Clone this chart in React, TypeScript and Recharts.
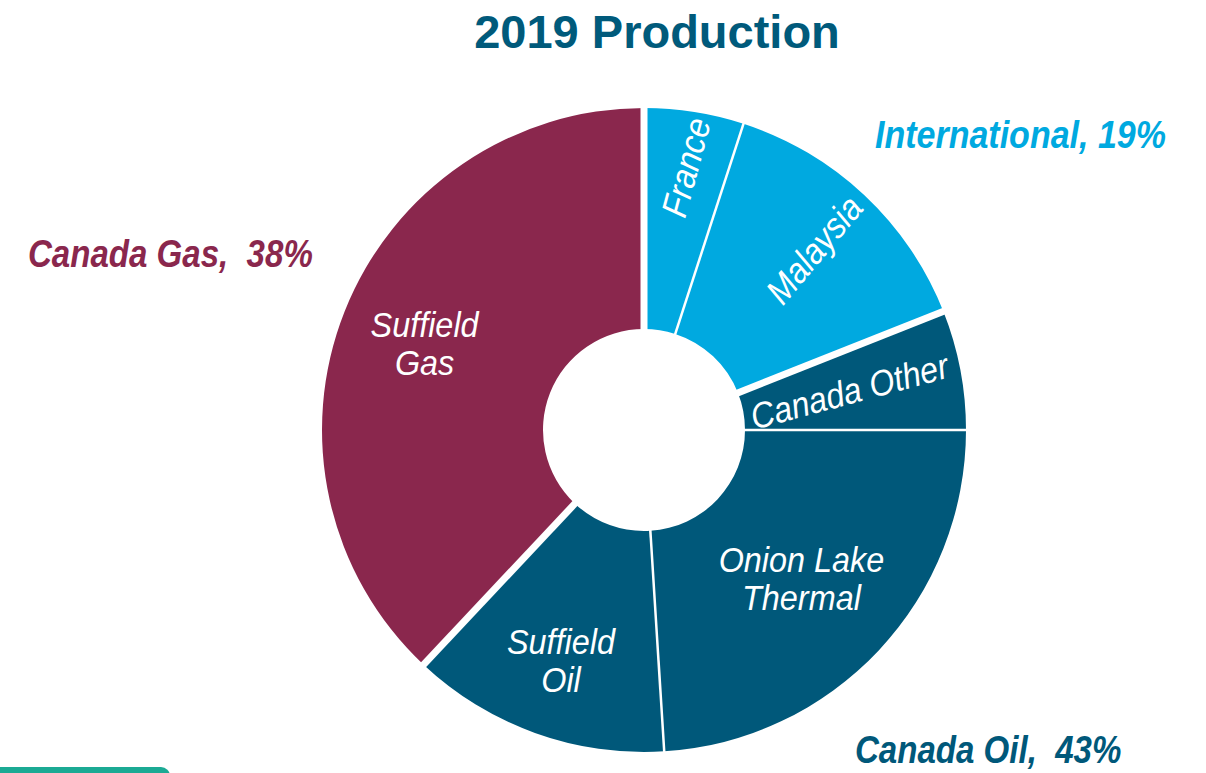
import React from 'react';
import { PieChart, Pie, Cell } from 'recharts';

// slice data, clockwise from 12 o'clock
const categories = ['France', 'Malaysia', 'Canada Other', 'Onion Lake Thermal', 'Suffield Oil', 'Suffield Gas'];
const shares = [5, 14, 6, 24, 13, 38];
const segments = ['International', 'International', 'Canada Oil', 'Canada Oil', 'Canada Oil', 'Canada Gas'];

const segmentNames = ['Canada Gas', 'International', 'Canada Oil'];

const COLORS: Record<string, string> = {
  'Canada Gas': '#8A274D',
  International: '#00A9E0',
  'Canada Oil': '#00587A',
};
const TITLE_COLOR = '#005A7B';
const FONT = "'Liberation Sans', Arial, Helvetica, sans-serif";

const chartData = categories.map((name, i) => ({ name, value: shares[i], group: segments[i] }));

const segmentTotals = segmentNames.map((g) =>
  chartData.filter((d) => d.group === g).reduce((s, d) => s + d.value, 0)
);

// where the slice names sit (radius from centre, rotation, line breaks)
const labelLayout: Record<string, { r: number; rot: number; lines: string[] }> = {
  France: { r: 266, rot: -75, lines: ['France'] },
  Malaysia: { r: 248, rot: -50, lines: ['Malaysia'] },
  'Canada Other': { r: 209, rot: -15, lines: ['Canada Other'] },
  'Onion Lake Thermal': { r: 216, rot: 0, lines: ['Onion Lake', 'Thermal'] },
  'Suffield Oil': { r: 245, rot: 0, lines: ['Suffield', 'Oil'] },
  'Suffield Gas': { r: 236, rot: 0, lines: ['Suffield', 'Gas'] },
};

// segment captions around the donut
const outerLayout: Record<string, { x: number; y: number; sep: string; sx: number }> = {
  'Canada Gas': { x: 28, y: 267, sep: ',  ', sx: 0.87 },
  International: { x: 875, y: 148, sep: ', ', sx: 0.895 },
  'Canada Oil': { x: 855, y: 763, sep: ',  ', sx: 0.87 },
};

const RAD = Math.PI / 180;
const polar = (cx: number, cy: number, r: number, a: number) => ({
  x: cx + r * Math.cos(-a * RAD),
  y: cy + r * Math.sin(-a * RAD),
});

const renderSliceLabel = (props: any) => {
  const { cx, cy, midAngle, startAngle, innerRadius, outerRadius, index } = props;
  const item = chartData[index];
  const prev = chartData[(index - 1 + chartData.length) % chartData.length];
  const layout = labelLayout[item.name];
  const thick = prev.group !== item.group;
  const a = polar(cx, cy, innerRadius - 3, startAngle);
  const b = polar(cx, cy, outerRadius + 3, startAngle);
  const c = polar(cx, cy, layout.r, midAngle);
  const fontSize = 36;
  const gap = 38;
  return (
    <g>
      <line x1={a.x} y1={a.y} x2={b.x} y2={b.y} stroke="#fff" strokeWidth={thick ? 7 : 2.5} />
      {layout.lines.map((t, i) => (
        <text
          key={t}
          transform={`translate(${c.x},${c.y}) rotate(${layout.rot}) scale(0.9,1)`}
          x={0}
          y={(i - (layout.lines.length - 1) / 2) * gap + fontSize * 0.36}
          textAnchor="middle"
          fill="#fff"
          fontFamily={FONT}
          fontStyle="italic"
          fontSize={fontSize}
        >
          {t}
        </text>
      ))}
    </g>
  );
};

const App: React.FC = () => {
  return (
    <div
      style={{
        position: 'absolute',
        left: 0,
        top: 0,
        width: 1206,
        height: 773,
        overflow: 'hidden',
        background: '#fff',
      }}
    >
      <PieChart width={1206} height={773} margin={{ top: 0, right: 0, bottom: 0, left: 0 }}>
        <Pie
          data={chartData}
          dataKey="value"
          nameKey="name"
          cx={644}
          cy={430}
          innerRadius={101}
          outerRadius={322}
          startAngle={90}
          endAngle={-270}
          stroke="none"
          label={renderSliceLabel}
          labelLine={false}
          isAnimationActive={false}
        >
          {chartData.map((d) => (
            <Cell key={d.name} fill={COLORS[d.group]} />
          ))}
        </Pie>
      </PieChart>

      <svg
        width={1206}
        height={773}
        style={{ position: 'absolute', left: 0, top: 0, pointerEvents: 'none' }}
      >
        <text
          x={657}
          y={48}
          textAnchor="middle"
          fill={TITLE_COLOR}
          fontFamily={FONT}
          fontWeight="bold"
          fontSize={47}
        >
          2019 Production
        </text>
        {segmentNames.map((g, i) => {
          const o = outerLayout[g];
          return (
            <text
              key={g}
              transform={`translate(${o.x},${o.y}) scale(${o.sx},1)`}
              fill={COLORS[g]}
              fontFamily={FONT}
              fontWeight="bold"
              fontStyle="italic"
              fontSize={38}
              style={{ whiteSpace: 'pre' }}
            >
              {`${g}${o.sep}${segmentTotals[i]}%`}
            </text>
          );
        })}
      </svg>

      <div
        style={{
          position: 'absolute',
          left: 0,
          top: 767,
          width: 170,
          height: 20,
          background: '#1BAA94',
          borderTopRightRadius: 9,
        }}
      />
    </div>
  );
};

export default App;
